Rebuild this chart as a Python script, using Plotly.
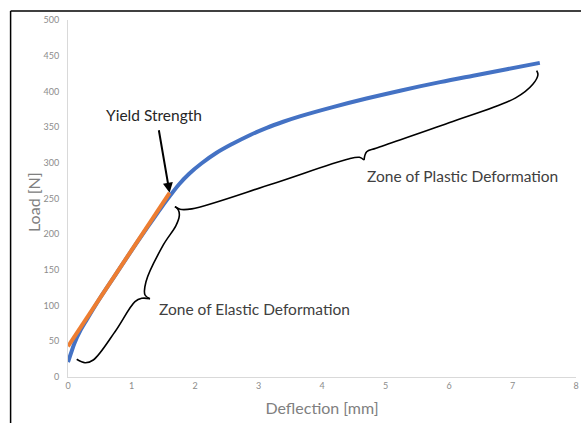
import plotly.graph_objects as go

# Load-deflection curve (blue)
deflection = [0.0, 0.05, 0.1, 0.2, 0.3, 0.5, 0.75, 1.0, 1.25, 1.45, 1.6, 1.75, 1.9, 2.1, 2.34, 2.6,
              2.87, 3.13, 3.39, 3.65, 4.17, 4.70, 5.23, 5.86, 6.38, 6.91, 7.43]
load = [21, 34, 47, 66, 81, 110, 143.5, 177, 209.5, 235, 253, 270, 284, 299, 314, 327,
        339, 349, 357.5, 365, 378, 390, 401, 413, 422, 431, 440]

# Elastic fit line (orange)
elastic_x = [0.0, 1.6]
elastic_y = [43, 258]

# Brace outlines (data units)
elastic_brace_x = [0.137, 0.268, 0.398, 0.74, 1.055, 1.161, 1.291,
                   1.213, 1.228, 1.501, 1.70, 1.753, 1.737, 1.685]
elastic_brace_y = [24.8, 20.0, 23.8, 63.4, 105.5, 110.2, 109.7,
                   114.8, 133.5, 184.9, 212, 226, 234, 238.5]
plastic_brace_x = [1.685, 1.764, 1.95, 3.2, 4.40, 4.59, 4.661,
                   4.704, 4.85, 6.0, 7.05, 7.32, 7.40, 7.381]
plastic_brace_y = [238.5, 234.9, 235.5, 270, 305, 307.7, 303.9,
                   315.5, 320.3, 356, 391, 410, 423.0, 429.0]

x_ticks = [0, 1, 2, 3, 4, 5, 6, 7, 8]
y_ticks = [0, 50, 100, 150, 200, 250, 300, 350, 400, 450, 500]

FONT = "Lato"
fig = go.Figure()

brace_line = dict(color="black", width=1.6, shape="spline", smoothing=1.0)
# braces
fig.add_trace(go.Scatter(x=elastic_brace_x[:7], y=elastic_brace_y[:7], mode="lines",
                         line=brace_line, hoverinfo="skip"))
fig.add_trace(go.Scatter(x=elastic_brace_x[6:], y=elastic_brace_y[6:], mode="lines",
                         line=brace_line, hoverinfo="skip"))
fig.add_trace(go.Scatter(x=plastic_brace_x[:7], y=plastic_brace_y[:7], mode="lines",
                         line=brace_line, hoverinfo="skip"))
fig.add_trace(go.Scatter(x=plastic_brace_x[6:], y=plastic_brace_y[6:], mode="lines",
                         line=brace_line, hoverinfo="skip"))

fig.add_trace(go.Scatter(x=deflection, y=load, mode="lines",
                         line=dict(color="#4472C4", width=4, shape="spline")))
fig.add_trace(go.Scatter(x=elastic_x, y=elastic_y, mode="lines",
                         line=dict(color="#ED7D31", width=4)))

fig.add_annotation(x=elastic_x[-1], y=elastic_y[-1], ax=-11, ay=-64, text="",
                   showarrow=True, arrowhead=2, arrowsize=1, arrowwidth=2, arrowcolor="black")
fig.add_annotation(x=1.354, y=367, text="Yield Strength", showarrow=False,
                   font=dict(family=FONT, size=15.5, color="#262626"))
fig.add_annotation(x=1.40, y=95.2, text="Zone of Elastic Deformation", showarrow=False,
                   xanchor="left", font=dict(family=FONT, size=15.5, color="#404040"))
fig.add_annotation(x=4.68, y=281.5, text="Zone of Plastic Deformation", showarrow=False,
                   xanchor="left", font=dict(family=FONT, size=15.5, color="#404040"))
# y-axis title
fig.add_annotation(xref="paper", yref="paper", x=-0.069, y=0.49, text="Load [N]", textangle=-90,
                   xanchor="center", yanchor="middle",
                   showarrow=False, font=dict(family=FONT, size=16, color="#808080"))

# outer frame (cropped at right and bottom)
fig.add_shape(type="line", xref="paper", yref="paper", x0=-0.113, x1=-0.113, y0=-0.3, y1=1.025,
              line=dict(color="black", width=1.5))
fig.add_shape(type="line", xref="paper", yref="paper", x0=-0.113, x1=1.1, y0=1.025, y1=1.025,
              line=dict(color="black", width=1.5))

fig.update_layout(
    width=581, height=423, showlegend=False,
    margin=dict(l=68, r=4.5, t=20, b=46, autoexpand=False),
    plot_bgcolor="white", paper_bgcolor="white",
    font=dict(family=FONT),
)
fig.update_xaxes(range=[0, 8], tickvals=x_ticks, showgrid=False, zeroline=False, automargin=False,
                 showline=True, linecolor="#d9d9d9", linewidth=1,
                 tickfont=dict(size=9, color="#8c8c8c"), ticks="", ticklen=0,
                 title=dict(text="Deflection [mm]", font=dict(size=16, color="#808080"), standoff=13))
fig.update_yaxes(range=[0, 500], tickvals=y_ticks, showgrid=False, zeroline=False, automargin=False,
                 showline=True, linecolor="#d9d9d9", linewidth=1,
                 tickfont=dict(size=9, color="#8c8c8c"), ticks="", ticklabelstandoff=6)

fig.write_html("out.html", config={"displayModeBar": False},
               post_script="document.body.style.margin='0';document.body.style.padding='0';")
